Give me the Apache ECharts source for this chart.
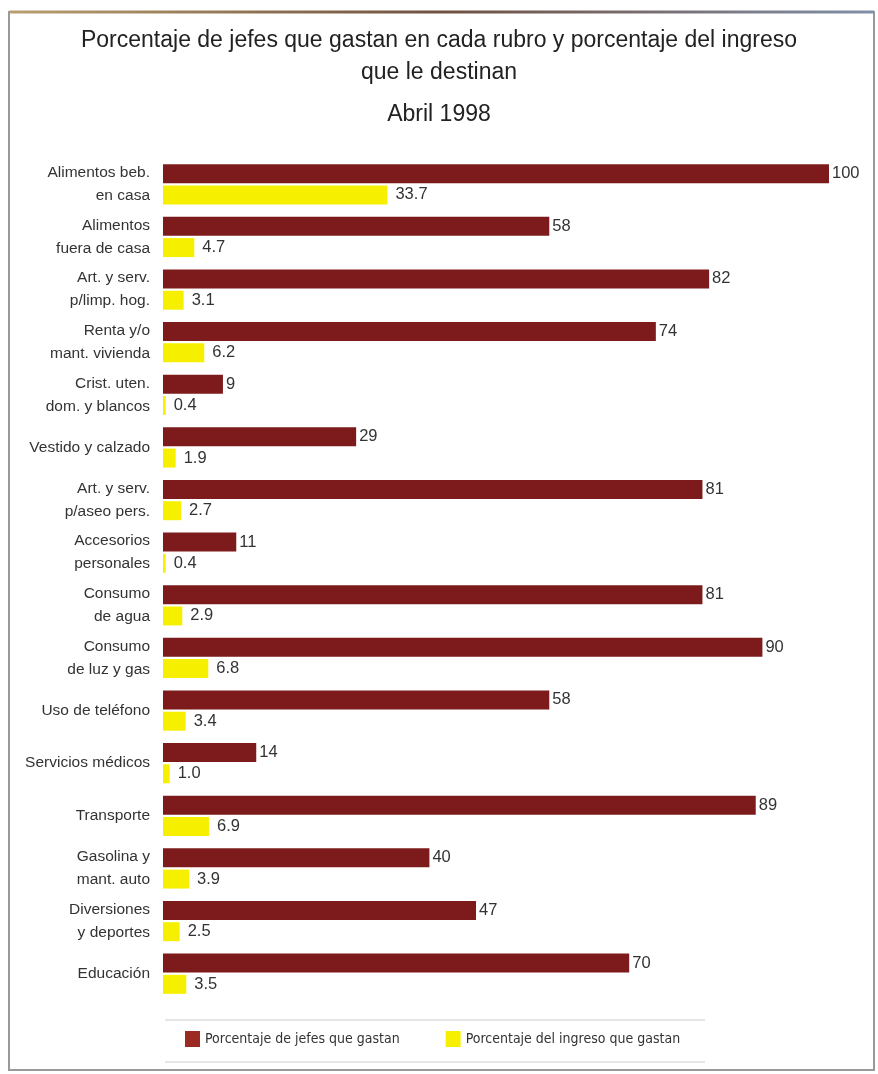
<!DOCTYPE html>
<html>
<head>
<meta charset="utf-8">
<script src="https://cdn.jsdelivr.net/npm/echarts@6/dist/echarts.min.js"></script>
<style>
  html, body { margin: 0; padding: 0; background: #fff; }
  #chart { width: 878px; height: 1074px; }
</style>
</head>
<body>
<div id="chart"></div>
<script>
// rubros de gasto
var categories = [
  "Alimentos beb.\nen casa", "Alimentos\nfuera de casa", "Art. y serv.\np/limp. hog.",
  "Renta y/o\nmant. vivienda", "Crist. uten.\ndom. y blancos", "Vestido y calzado",
  "Art. y serv.\np/aseo pers.", "Accesorios\npersonales", "Consumo\nde agua",
  "Consumo\nde luz y gas", "Uso de teléfono", "Servicios médicos", "Transporte",
  "Gasolina y\nmant. auto", "Diversiones\ny deportes", "Educación"
];
// porcentaje de jefes que gastan
var jefes = [100, 58, 82, 74, 9, 29, 81, 11, 81, 90, 58, 14, 89, 40, 47, 70];
// porcentaje del ingreso que gastan
var ingreso = [33.7, 4.7, 3.1, 6.2, 0.4, 1.9, 2.7, 0.4, 2.9, 6.8, 3.4, 1.0, 6.9, 3.9, 2.5, 3.5];

var chart = echarts.init(document.getElementById("chart"));
var font = "'Liberation Sans Narrow', 'Liberation Sans', sans-serif";

chart.setOption({
  backgroundColor: "#fff",
  title: {
    text: "Porcentaje de jefes que gastan en cada rubro y porcentaje del ingreso\nque le destinan",
    subtext: "Abril 1998",
    left: "center",
    top: 20,
    padding: [5, 5, 5, 23],
    itemGap: 14,
    textStyle: { fontFamily: font, fontSize: 23, fontWeight: "normal", color: "#222", lineHeight: 32 },
    subtextStyle: { fontFamily: font, fontSize: 23, color: "#222" }
  },
  legend: {
    bottom: 22,
    left: 180,
    itemWidth: 15,
    itemHeight: 16,
    itemGap: 46,
    icon: "rect",
    textStyle: { fontFamily: "'DejaVu Sans Condensed', sans-serif", fontSize: 14, color: "#333" },
    data: [
      { name: "Porcentaje de jefes que gastan", itemStyle: { color: "#9a2a22" } },
      { name: "Porcentaje del ingreso que gastan", itemStyle: { color: "#f6f000" } }
    ]
  },
  grid: { left: 163, right: 49, top: 158, bottom: 74, containLabel: false },
  xAxis: { type: "value", min: 0, max: 100, show: false },
  yAxis: {
    type: "category",
    inverse: true,
    data: categories,
    axisLine: { show: false },
    axisTick: { show: false },
    axisLabel: {
      fontFamily: font, fontSize: 15.5, color: "#333", lineHeight: 23, margin: 13, align: "right"
    }
  },
  series: [
    {
      name: "Porcentaje de jefes que gastan",
      type: "bar",
      data: jefes,
      barWidth: 19,
      barGap: "12%",
      itemStyle: { color: "#7d1b1c" },
      label: { show: true, position: "right", distance: 3, fontFamily: font, fontSize: 16.5, color: "#333" }
    },
    {
      name: "Porcentaje del ingreso que gastan",
      type: "bar",
      data: ingreso,
      barWidth: 19,
      itemStyle: { color: "#f6f000" },
      label: {
        show: true, position: "right", distance: 8, fontFamily: font, fontSize: 16.5, color: "#333",
        formatter: function (p) { return p.value.toFixed(1); }
      }
    }
  ],
  graphic: [
    // marco
    { type: "rect", shape: { x: 9, y: 12, width: 865, height: 1058 }, style: { fill: null, stroke: "#999", lineWidth: 2 } },
    { type: "line", shape: { x1: 9, y1: 12, x2: 874, y2: 12 },
      style: { lineWidth: 3, stroke: new echarts.graphic.LinearGradient(0, 0, 1, 0, [
        { offset: 0, color: "#b8a070" }, { offset: 0.5, color: "#705040" }, { offset: 1, color: "#8090a8" }
      ]) } },
    // lineas de la leyenda
    { type: "line", shape: { x1: 165, y1: 1020, x2: 705, y2: 1020 }, style: { stroke: "#ccc", lineWidth: 1 } },
    { type: "line", shape: { x1: 165, y1: 1062, x2: 705, y2: 1062 }, style: { stroke: "#ccc", lineWidth: 1 } }
  ]
});
</script>
</body>
</html>
